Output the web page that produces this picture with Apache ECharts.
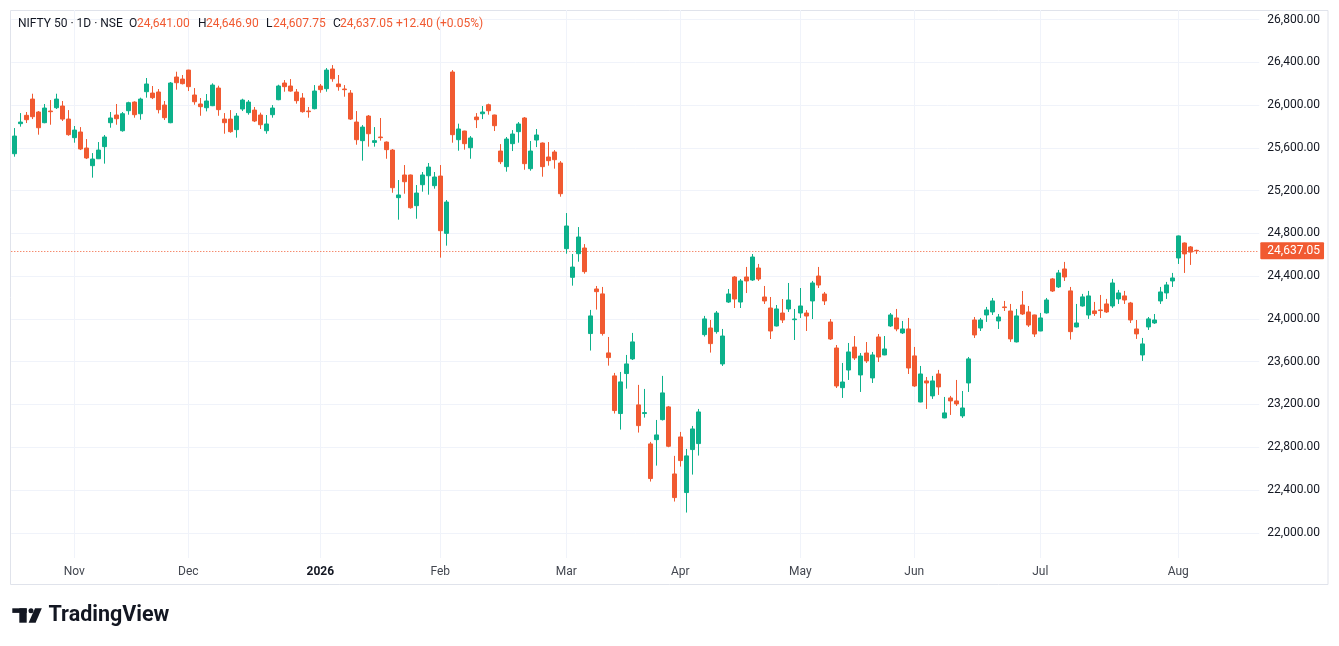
<!DOCTYPE html>
<html><head><meta charset="utf-8">
<script src="https://cdn.jsdelivr.net/npm/echarts@6/dist/echarts.min.js"></script>
<style>html,body{margin:0;padding:0;background:#fff}#c{width:1339px;height:646px}</style>
</head><body><div id="c"></div>
<script>
// trading days per month
const tradingDays = {
  '2025-10': [17,20,21,23,24,27,28,29,30,31],
  '2025-11': [3,4,6,7,10,11,12,13,14,17,18,19,20,21,24,25,26,27,28],
  '2025-12': [1,2,3,4,5,8,9,10,11,12,15,16,17,18,19,22,23,24,26,29,30,31],
  '2026-01': [1,2,5,6,7,8,9,12,13,14,16,19,20,21,22,23,27,28,29,30],
  '2026-02': [1,2,3,4,5,6,9,10,11,12,13,16,17,18,19,20,23,24,25,26,27],
  '2026-03': [2,4,5,6,9,10,11,12,13,16,17,18,19,20,23,24,25,27,30],
  '2026-04': [1,2,6,7,8,9,10,13,15,16,17,20,21,22,23,24,27,28,29,30],
  '2026-05': [4,5,6,7,8,11,12,13,14,15,18,19,20,21,22,25,26,27,29],
  '2026-06': [1,2,3,4,5,8,9,10,11,12,15,16,17,18,19,22,23,24,25,29,30],
  '2026-07': [1,2,3,6,7,8,9,10,13,14,15,16,17,20,21,22,23,24,27,28,29,30,31],
  '2026-08': [3,4,5,6]
};
const xTickDates = ['2025-11-03','2025-12-01','2026-01-01','2026-02-01','2026-03-02','2026-04-01','2026-05-04','2026-06-01','2026-07-01','2026-08-03'];
const xTickLabels = ['Nov','Dec','2026','Feb','Mar','Apr','May','Jun','Jul','Aug'];

const opens = [25545,25826,25904,26056,25935,25835,25944,25975,25991,25869,
25695,25748,25598,25433,25498,25611,25835,25907,25760,25947,
26028,25919,26125,26112,26122,26000,25835,26262,26243,26327,
26094,26010,25975,25994,26159,25869,25869,25770,25963,25929,
25953,25907,25760,25910,26050,26206,26178,26122,26066,25944,
25966,26178,26153,26337,26197,26150,26112,25841,25667,25897,
25651,25701,25654,25579,25134,25346,25346,25059,25255,25339,
25246,25336,24800,26309,25676,25757,25601,25888,25919,26003,
25907,25570,25424,25639,25751,25879,25405,25673,25645,25514,
25561,25458,24657,24389,24610,24663,23863,24280,24234,23682,
23467,23115,23489,23626,23196,23115,22831,22871,23058,23177,
22550,22896,22376,22778,22834,23853,23915,23881,23579,24158,
24392,24158,24392,24364,24476,24205,24102,23934,24055,24093,
23993,24055,24055,24168,24401,24233,23971,23728,23357,23522,
23737,23476,23681,23448,23831,23663,23934,24009,23869,23906,
23654,23223,23420,23280,23485,23074,23261,23233,23093,23401,
23990,23915,24037,24065,23981,24112,24074,23785,24130,24065,
24037,23887,24056,24374,24299,24467,24262,23925,24121,24037,
24075,24084,24140,24121,24187,24215,24149,23906,23663,23925,
23962,24168,24243,24355,24570,24710,24673,24641];
const closes = [25710,25841,25863,25891,25788,25972,25938,26056,25869,25723,
25766,25589,25505,25495,25579,25701,25879,25872,25919,26022,
25910,26056,26197,26069,25957,25882,26206,26209,26200,26172,
26031,25985,26038,26187,25957,25835,25751,25897,26047,26028,
25851,25816,25823,25972,26178,26172,26131,26041,25938,25938,
26131,26144,26327,26246,26172,26144,25869,25676,25794,25732,
25667,25695,25583,25227,25159,25283,25040,25177,25346,25420,
25327,24825,25093,25723,25776,25639,25692,25863,25935,25947,
25807,25470,25682,25729,25823,25452,25570,25720,25424,25480,
25489,25171,24869,24485,24766,24442,24028,24255,23863,23638,
23143,23411,23579,23785,23002,23124,22507,22915,23308,22809,
22329,22675,22719,22971,23130,24000,23769,24055,23840,24233,
24186,24355,24355,24579,24373,24168,23887,24093,23990,24177,
23999,24121,24027,24336,24317,24168,23812,23373,23410,23691,
23635,23653,23607,23663,23644,23719,24037,23906,23906,23541,
23373,23485,23401,23420,23364,23121,23233,23205,23167,23626,
23850,23990,24084,24168,24018,24106,23813,24028,24046,23943,
23859,24009,24177,24261,24430,24392,23881,23962,24206,24215,
24050,24078,24065,24336,24243,24177,23990,23860,23766,24000,
23990,24252,24318,24383,24776,24608,24624.65,24637.05];
const lows = [25517,25798,25832,25869,25723,25830,25816,25963,25851,25713,
25648,25579,25495,25321,25495,25452,25788,25816,25751,25910,
25882,25863,26069,26056,25922,25860,25830,26144,26193,26131,
26003,25900,25941,25990,25900,25732,25741,25695,25944,25910,
25841,25776,25732,25882,26045,26125,26125,26013,25929,25882,
25960,26115,26125,26218,26134,26078,25860,25629,25480,25611,
25611,25667,25498,25180,24928,25171,25031,24937,25190,25162,
25218,24573,24685,25648,25573,25583,25498,25785,25869,25910,
25757,25448,25377,25570,25648,25395,25386,25607,25330,25433,
25405,25143,24610,24311,24535,24423,23704,24087,23844,23563,
23115,22965,23348,23616,22937,23077,22479,22628,23050,22800,
22292,22619,22189,22544,22722,23835,23685,23862,23560,24149,
24102,24102,24242,24355,24355,24140,23812,23930,23962,24065,
23803,24009,23887,23999,24289,24130,23803,23354,23261,23429,
23616,23317,23588,23401,23597,23660,23925,23885,23859,23485,
23364,23220,23158,23252,23289,23070,23102,23186,23074,23317,
23822,23887,23972,24037,23906,24074,23785,23780,24037,23925,
23831,23885,24050,24252,24289,24355,23807,23920,24115,24000,
24028,24009,24056,24103,24140,24140,23962,23813,23607,23897,
23953,24140,24187,24299,24514,24430,24505,24607.75];
const highs = [25785,25925,25935,26106,25944,26010,26047,26106,26038,25953,
25804,25794,25682,25551,25654,25720,25935,26010,25935,26031,
26035,26069,26253,26178,26150,26038,26215,26312,26281,26330,
26159,26066,26103,26203,26181,25925,25953,25925,26059,26047,
25982,25929,25907,26000,26190,26234,26243,26150,26112,25982,
26187,26197,26346,26374,26281,26187,26140,25944,25813,25907,
25794,25879,25660,25589,25299,25439,25350,25252,25374,25458,
25374,25439,25112,26327,25826,25760,25710,25925,25991,26013,
25910,25635,25701,25766,25841,25888,25664,25776,25650,25654,
25579,25476,24990,24607,24859,24700,24084,24308,24299,23831,
23495,23504,23663,23869,23383,23345,22850,23055,23467,23186,
22719,22943,22784,22999,23158,24028,23990,24074,23906,24280,
24401,24373,24486,24607,24514,24308,24205,24130,24186,24336,
24093,24289,24083,24355,24486,24252,23999,23756,23588,23775,
23840,23681,23784,23691,23859,23840,24055,24093,23981,24009,
23738,23560,23457,23467,23523,23270,23280,23429,23326,23644,
24018,24009,24112,24196,24046,24168,24140,24093,24261,24121,
24040,24056,24196,24383,24458,24533,24299,24140,24234,24262,
24159,24224,24187,24374,24271,24262,24159,23990,23822,24018,
24046,24299,24346,24430,24780,24715,24682,24646.9];

const upColor = '#0CB18B', downColor = '#F15A31';
const textColor = '#131722';

const dates = [];
Object.keys(tradingDays).forEach(m => tradingDays[m].forEach(d => dates.push(m + '-' + String(d).padStart(2,'0'))));
const cats = dates.slice();
for (let i = 1; i <= 10; i++) cats.push('pad' + i);
const tickIndex = {};
xTickDates.forEach((d, k) => { tickIndex[dates.indexOf(d)] = xTickLabels[k]; });

const candles = opens.map((o, i) => [o, closes[i], lows[i], highs[i]]);
const fmt = v => v.toLocaleString('en-US', {minimumFractionDigits: 2, maximumFractionDigits: 2});
const n = opens.length;
const lastO = opens[n-1], lastH = highs[n-1], lastL = lows[n-1], lastC = closes[n-1];
const chg = lastC - closes[n-2];
const pct = chg / closes[n-2] * 100;
const lastColor = lastC >= lastO ? upColor : downColor;

const chart = echarts.init(document.getElementById('c'));
const font = 'Roboto';
const hdrY = 24;
const hdr = (text, x, fill) => ({type:'text', x, y: hdrY, z: 10, style:{text, fill, fontSize: 12, fontFamily: font, verticalAlign:'middle'}});

chart.setOption({
  animation: false,
  backgroundColor: '#ffffff',
  grid: {left: 11.3, right: 79.7, top: 10, bottom: 88},
  xAxis: {
    type: 'category', data: cats, boundaryGap: true,
    axisLine: {show: false}, axisTick: {show: false}, splitLine: {show: false},
    axisLabel: {
      interval: (i) => tickIndex[i] !== undefined,
      formatter: (v, i) => { const l = tickIndex[i] || ''; return /^\d{4}$/.test(l) ? '{y|' + l + '}' : l; },
      color: '#42464F', fontSize: 12, fontFamily: font, margin: 8,
      rich: {y: {color: textColor, fontSize: 12, fontFamily: font, fontWeight: 'bold'}}
    }
  },
  yAxis: {
    type: 'value', position: 'right', scale: true,
    min: 21764, max: 26889, minInterval: 400, maxInterval: 400, splitNumber: 12,
    axisLine: {show: false}, axisTick: {show: false},
    splitLine: {show: true, showMinLine: false, showMaxLine: false, lineStyle: {color: '#F0F3FA', width: 1}},
    axisLabel: {showMinLabel: false, showMaxLabel: false, formatter: v => fmt(v), color: textColor, fontSize: 12, fontFamily: font, margin: 8}
  },
  series: [{
    type: 'candlestick', data: candles, barWidth: '68%',
    itemStyle: {color: upColor, color0: downColor, borderColor: upColor, borderColor0: downColor, borderWidth: 1},
    markLine: {
      silent: true, symbol: ['none','none'], z: 1, animation: false,
      data: xTickDates.map(d => ({xAxis: d, lineStyle: {color: '#F0F3FA', type: 'solid', width: 1}, label: {show: false}}))
        .concat([{yAxis: lastC, lineStyle: {color: lastColor, type: [1, 2], width: 1},
          label: {show: true, position: 'end', distance: 1, formatter: () => fmt(lastC), backgroundColor: lastColor,
            color: '#ffffff', padding: [3, 4, 2, 7], fontSize: 12, fontFamily: font, borderRadius: 1}}])
    }
  }],
  graphic: [
    {type:'rect', z: 0, shape:{x: 10.5, y: 10.5, width: 1317.5, height: 574}, style:{fill: 'none', stroke: '#E0E3EB', lineWidth: 1}},
    hdr('NIFTY 50 · 1D · NSE', 18, textColor),
    hdr('O', 129, textColor), hdr(fmt(lastO), 137, lastColor),
    hdr('H', 198, textColor), hdr(fmt(lastH), 206, lastColor),
    hdr('L', 266, textColor), hdr(fmt(lastL), 273, lastColor),
    hdr('C', 333, textColor), hdr(fmt(lastC), 340, lastColor),
    hdr((chg >= 0 ? '+' : '') + chg.toFixed(2) + ' (' + (pct >= 0 ? '+' : '') + pct.toFixed(2) + '%)', 396, lastColor),
    {type:'rect', shape:{x: 12.3, y: 608.3, width: 14.4, height: 4.6}, style:{fill: textColor}},
    {type:'rect', shape:{x: 19.3, y: 608.3, width: 7.4, height: 14.4}, style:{fill: textColor}},
    {type:'circle', shape:{cx: 31, cy: 610.7, r: 2.5}, style:{fill: textColor}},
    {type:'polygon', shape:{points: [[35,608.3],[41.8,608.3],[35.6,622.7],[28.6,622.7]]}, style:{fill: textColor}},
    {type:'text', x: 48.5, y: 616, style:{text: 'TradingView', fill: textColor, fontSize: 21.5, fontWeight: 'bold', fontFamily: font, verticalAlign: 'middle'}}
  ]
});
</script></body></html>
